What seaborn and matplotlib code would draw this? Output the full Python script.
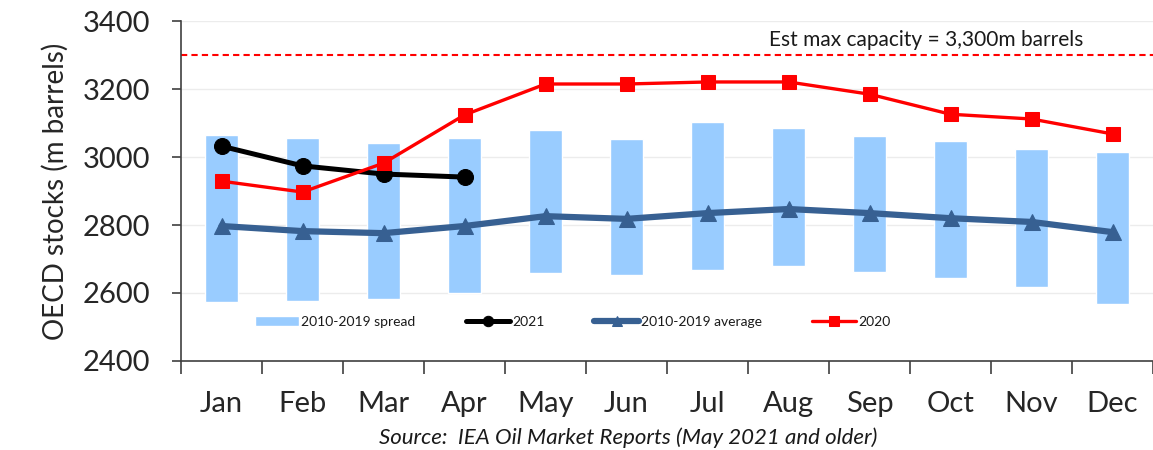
import matplotlib
matplotlib.use("Agg")
import matplotlib.pyplot as plt
import seaborn as sns
import pandas as pd
import numpy as np

mesi = ["Jan", "Feb", "Mar", "Apr", "May", "Jun", "Jul", "Aug", "Sep", "Oct", "Nov", "Dec"]
spread_max = [3065, 3056, 3041, 3056, 3079, 3053, 3103, 3085, 3062, 3047, 3024, 3015]
spread_min = [2574, 2576, 2582, 2600, 2659, 2653, 2668, 2679, 2662, 2644, 2618, 2568]
media_2010_2019 = [2797, 2782, 2776, 2797, 2826, 2818, 2835, 2847, 2835, 2820, 2809, 2779]
stock_2021 = [3032, 2974, 2950, 2941]
stock_2020 = [2929, 2897, 2982, 3124, 3215, 3215, 3221, 3221, 3185, 3126, 3112, 3068]
capacita_max = 3300

sns.set_style("white")
plt.rcParams["font.family"] = ["Lato", "DejaVu Sans"]
plt.rcParams["text.color"] = "#1a1a1a"

fig = plt.figure(figsize=(11.53, 4.5), dpi=100)
ax = fig.add_axes([0.157, 0.198, 0.843, 0.755])

x = np.arange(len(mesi))
df = pd.DataFrame({"x": x, "media": media_2010_2019, "y2020": stock_2020})
df21 = pd.DataFrame({"x": x[:len(stock_2021)], "y2021": stock_2021})

# barre flottanti min-max 2010-2019
altezze = np.array(spread_max) - np.array(spread_min)
ax.bar(x, altezze, bottom=spread_min, width=0.41, color="#99CCFF", label="2010-2019 spread", zorder=2)

sns.lineplot(data=df21, x="x", y="y2021", ax=ax, color="black", lw=3.6, marker="o",
             markersize=11.5, markeredgecolor="black", label="2021", zorder=4)
sns.lineplot(data=df, x="x", y="media", ax=ax, color="#376092", lw=4.5, marker="^",
             markersize=11.5, markeredgecolor="#376092", label="2010-2019 average", zorder=3)
sns.lineplot(data=df, x="x", y="y2020", ax=ax, color="#FF0000", lw=2.4, marker="s",
             markersize=10.5, markeredgecolor="#FF0000", label="2020", zorder=5)

# capacità massima stimata
ax.axhline(capacita_max, color="#FF0000", ls=(0, (3, 2)), lw=1.5, zorder=1)
ax.text(8.7, capacita_max + 14, "Est max capacity = 3,300m barrels", fontsize=15,
        va="bottom", ha="center")

ax.set_xlim(-0.5, 11.5)
ax.set_ylim(2400, 3400)
ax.set_yticks(range(2400, 3401, 200))
ax.yaxis.grid(True, color="#ececec", lw=1)
ax.set_axisbelow(True)
ax.set_xticks(x)
ax.set_xticklabels(mesi, fontsize=21)
ax.set_xticks(np.arange(-0.5, 12, 1), minor=True)
ax.tick_params(axis="x", which="both", bottom=True)
ax.tick_params(axis="x", which="major", length=0, pad=22)
ax.tick_params(axis="x", which="minor", length=9, direction="out", width=1.2, color="#404040")
ax.tick_params(axis="y", left=True, length=6.5, direction="out", width=1.2, color="#404040",
               labelsize=21, pad=16)
ax.set_xlabel("")
ax.set_ylabel("OECD stocks (m barrels)", fontsize=20, labelpad=10)
for lato in ["top", "right"]:
    ax.spines[lato].set_visible(False)
for lato in ["left", "bottom"]:
    ax.spines[lato].set_color("#404040")
    ax.spines[lato].set_linewidth(1.2)

# legenda nello stesso ordine del riferimento
handles, labels = ax.get_legend_handles_labels()
ordine = [labels.index(l) for l in ["2010-2019 spread", "2021", "2010-2019 average", "2020"]]
leg = ax.legend([handles[i] for i in ordine], [labels[i] for i in ordine],
                loc="center left", bbox_to_anchor=(0.063, 0.115), ncol=4, frameon=False,
                fontsize=10, handlelength=3.2, handleheight=0.7, columnspacing=3.6,
                handletextpad=0.15, markerscale=0.65)

fig.text(0.545, 0.027, "Source:  IEA Oil Market Reports (May 2021 and older)",
         fontsize=16, style="italic", ha="center", va="center")

fig.savefig("out.png", dpi=100)
